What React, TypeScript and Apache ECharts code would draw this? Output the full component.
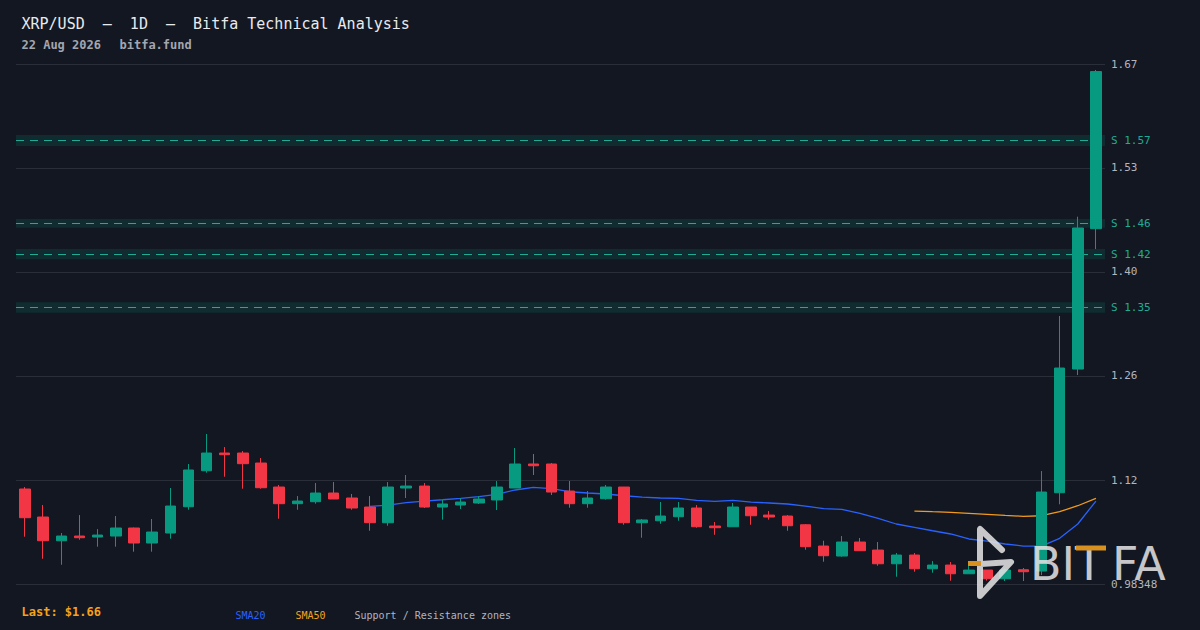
import React, { useEffect, useRef } from "react";
import * as echarts from "echarts";

const BG = "#131722";
const UP = "#089981";
const DOWN = "#f23645";
const MONO = "'DejaVu Sans Mono', 'Liberation Mono', monospace";

const opens = [
  1.1089, 1.0719, 1.0406, 1.0468, 1.0455, 1.0468, 1.0574, 1.0376, 1.0508, 1.0855,
  1.133, 1.1564, 1.1564, 1.1432, 1.1115, 1.0895, 1.0921, 1.1036, 1.097, 1.0851,
  1.0644, 1.1102, 1.1128, 1.0851, 1.0878, 1.0904, 1.0944, 1.1102, 1.1419, 1.1419,
  1.1062, 1.0895, 1.0961, 1.1115, 1.0644, 1.067, 1.0723, 1.0838, 1.06, 1.0591,
  1.0851, 1.0745, 1.0732, 1.0617, 1.0336, 1.0204, 1.0389, 1.0283, 1.0102, 1.0217,
  1.0036, 1.0085, 0.997, 1.0019, 0.9904, 1.0023, 1.0006, 1.104, 1.2673, 1.4526,
];
const closes = [
  1.071, 1.0406, 1.0468, 1.0446, 1.0481, 1.0574, 1.0376, 1.0521, 1.0864, 1.134,
  1.1564, 1.1542, 1.1423, 1.1106, 1.0895, 1.093, 1.1036, 1.0957, 1.0838, 1.0644,
  1.1115, 1.1128, 1.0851, 1.0891, 1.0917, 1.0957, 1.1115, 1.1419, 1.1396, 1.1049,
  1.0895, 1.097, 1.1115, 1.0644, 1.068, 1.0732, 1.0838, 1.0591, 1.0578, 1.0851,
  1.0736, 1.0719, 1.0604, 1.0327, 1.0208, 1.0389, 1.0274, 1.0102, 1.0217, 1.0036,
  1.0085, 0.997, 1.0019, 0.9904, 1.0019, 0.9997, 1.1049, 1.2686, 1.4535, 1.66,
];
const lows = [
  1.0459, 1.0168, 1.0089, 1.0419, 1.0327, 1.0327, 1.0261, 1.0261, 1.0433, 1.0815,
  1.1304, 1.1251, 1.1093, 1.1093, 1.0697, 1.0815, 1.0895, 1.0957, 1.0815, 1.0538,
  1.0604, 1.097, 1.0838, 1.0684, 1.0825, 1.0891, 1.0811, 1.1102, 1.1274, 1.101,
  1.0842, 1.0842, 1.0948, 1.0617, 1.0446, 1.063, 1.067, 1.0578, 1.0485, 1.0591,
  1.0617, 1.0684, 1.0538, 1.0287, 1.0129, 1.0195, 1.0274, 1.0076, 0.9931, 0.9997,
  0.9984, 0.9878, 0.997, 0.988, 0.9874, 0.9874, 0.9953, 1.0887, 1.2594, 1.4257,
];
const highs = [
  1.1115, 1.0877, 1.0508, 1.0745, 1.056, 1.0732, 1.058, 1.0693, 1.1102, 1.1419,
  1.1815, 1.1643, 1.159, 1.1498, 1.1142, 1.0996, 1.1168, 1.1181, 1.1023, 1.0996,
  1.1181, 1.1274, 1.1168, 1.0944, 1.097, 1.0996, 1.1194, 1.163, 1.1551, 1.1432,
  1.1194, 1.1062, 1.1142, 1.1115, 1.0693, 1.0917, 1.0917, 1.0877, 1.0653, 1.0904,
  1.0851, 1.0798, 1.0745, 1.0627, 1.0406, 1.0468, 1.0442, 1.0389, 1.0244, 1.0244,
  1.0138, 1.0125, 1.0072, 1.002, 1.004, 1.0046, 1.1326, 1.3373, 1.4684, 1.6621,
];

const sma20 = [
  null, null, null, null, null, null, null, null, null, null,
  null, null, null, null, null, null, null, null, null, 1.086,
  1.0877, 1.0908, 1.093, 1.0947, 1.0966, 1.0987, 1.1019, 1.1076, 1.1111, 1.1095,
  1.1053, 1.1036, 1.1023, 1.1, 1.0983, 1.097, 1.0966, 1.094, 1.0926, 1.094,
  1.0917, 1.0904, 1.0891, 1.0864, 1.0831, 1.0821, 1.0768, 1.0702, 1.0627, 1.0583,
  1.0538, 1.0495, 1.0429, 1.0402, 1.0363, 1.0336, 1.0336, 1.0438, 1.0627, 1.093,
];
const sma50 = [
  null, null, null, null, null, null, null, null, null, null,
  null, null, null, null, null, null, null, null, null, null,
  null, null, null, null, null, null, null, null, null, null,
  null, null, null, null, null, null, null, null, null, null,
  null, null, null, null, null, null, null, null, null, 1.0798,
  1.0789, 1.0781, 1.0768, 1.0755, 1.0741, 1.0728, 1.0736, 1.0789, 1.0868, 1.0966,
];

const Y_MIN = 0.98348;
const Y_MAX = 1.67;
const yTicks = [0.98348, 1.12078, 1.25809, 1.3954, 1.5327, 1.67];
const yTickLabels = ["0.98348", "1.12", "1.26", "1.40", "1.53", "1.67"];

const supportLevels = [1.5693, 1.4597, 1.4191, 1.3488];
const zoneLow = [1.5618, 1.4539, 1.4121, 1.3416];
const zoneHigh = [1.5763, 1.4654, 1.4257, 1.3554];

const categories: string[] = [];
{
  const end = new Date(Date.UTC(2026, 7, 22));
  for (let i = 59; i >= 0; i--) {
    const d = new Date(end.getTime() - i * 86400000);
    categories.push(d.toISOString().slice(0, 10));
  }
}

const LOGO_FILL = "rgba(225,225,225,0.88)";
const LOGO_ORANGE = "#d8901f";

export default function App() {
  const ref = useRef<HTMLDivElement>(null);
  useEffect(() => {
    const chart = echarts.init(ref.current!, null, { renderer: "svg" });
    const candleData = opens.map((o, i) => [o, closes[i], lows[i], highs[i]]);

    const gridLines = yTicks.map((v, i) => ({
      yAxis: v,
      lineStyle: { color: "#2a2e39", width: 1, type: "solid" },
      label: {
        show: true,
        position: "end",
        distance: 6,
        formatter: yTickLabels[i],
        color: "#b2b5be",
        fontFamily: MONO,
        fontSize: 11,
      },
    }));
    const supLines = supportLevels.map((v) => ({
      yAxis: v,
      lineStyle: { color: "#22ab94", width: 1.2, type: [8, 6] },
      label: {
        show: true,
        position: "end",
        distance: 6,
        formatter: "S " + v.toFixed(2),
        color: "#22ab94",
        fontFamily: MONO,
        fontSize: 11,
      },
    }));
    const zones = zoneLow.map((lo, i) => [{ yAxis: lo }, { yAxis: zoneHigh[i] }]);

    chart.setOption({
      animation: false,
      backgroundColor: BG,
      grid: { left: 16, right: 95, top: 64, bottom: 46 },
      xAxis: {
        type: "category",
        data: categories,
        boundaryGap: true,
        axisLine: { show: false },
        axisTick: { show: false },
        axisLabel: { show: false },
        splitLine: { show: false },
      },
      yAxis: {
        type: "value",
        position: "right",
        min: Y_MIN,
        max: Y_MAX,
        scale: true,
        axisLine: { show: false },
        axisTick: { show: false },
        axisLabel: { show: false },
        splitLine: { show: false },
      },
      series: [
        {
          name: "SMA20",
          type: "line",
          z: 1,
          data: sma20,
          showSymbol: false,
          symbol: "none",
          lineStyle: { color: "#2962ff", width: 1.3 },
          silent: true,
          markArea: {
            silent: true,
            z: 0,
            itemStyle: { color: "rgba(8,153,129,0.16)" },
            data: zones,
          },
          markLine: {
            silent: true,
            z: 1,
            symbol: ["none", "none"],
            precision: 5,
            data: [...gridLines, ...supLines],
          },
        },
        {
          name: "SMA50",
          type: "line",
          z: 2,
          data: sma50,
          showSymbol: false,
          symbol: "none",
          lineStyle: { color: "#f29a1e", width: 1.3 },
          silent: true,
        },
        {
          name: "XRP",
          type: "candlestick",
          z: 6,
          data: candleData,
          barWidth: 11,
          itemStyle: {
            color: UP,
            color0: DOWN,
            borderColor: UP,
            borderColor0: DOWN,
            borderWidth: 1,
          },
        },
      ],
      graphic: [
        {
          type: "text",
          x: 21.5,
          y: 24,
          style: {
            text: "XRP/USD  –  1D  –  Bitfa Technical Analysis",
            fill: "#e8eaed",
            font: `15px ${MONO}`,
            verticalAlign: "middle",
          },
        },
        {
          type: "text",
          x: 21.5,
          y: 45,
          style: {
            text: "22 Aug 2026",
            fill: "#a3a6af",
            font: `bold 12px ${MONO}`,
            verticalAlign: "middle",
          },
        },
        {
          type: "text",
          x: 119.5,
          y: 45,
          style: {
            text: "bitfa.fund",
            fill: "#a3a6af",
            font: `bold 12px ${MONO}`,
            verticalAlign: "middle",
          },
        },
        {
          type: "text",
          x: 21.5,
          y: 612,
          style: {
            text: "Last: $1.66",
            fill: "#f7a21b",
            font: `bold 12px ${MONO}`,
            verticalAlign: "middle",
          },
        },
        {
          type: "text",
          x: 235.5,
          y: 615,
          style: {
            text: "SMA20",
            fill: "#2962ff",
            font: `10px ${MONO}`,
            verticalAlign: "middle",
          },
        },
        {
          type: "text",
          x: 295.5,
          y: 615,
          style: {
            text: "SMA50",
            fill: "#f7a21b",
            font: `10px ${MONO}`,
            verticalAlign: "middle",
          },
        },
        {
          type: "text",
          x: 354.5,
          y: 615,
          style: {
            text: "Support / Resistance zones",
            fill: "#b2b5be",
            font: `10px ${MONO}`,
            verticalAlign: "middle",
          },
        },
        {
          type: "group",
          z: 100,
          children: [
            {
              type: "polyline",
              z: 100,
              shape: { points: [[1002, 550], [980, 529], [980, 596], [1011, 562], [981, 564]] },
              style: { stroke: LOGO_FILL, lineWidth: 6, fill: "none", lineCap: "round", lineJoin: "round" },
            },
            {
              type: "rect",
              z: 100,
              shape: { x: 968, y: 561, width: 13, height: 5 },
              style: { fill: LOGO_ORANGE },
            },
            {
              type: "text",
              z: 100,
              x: 1030,
              y: 563.5,
              style: {
                text: "BIT",
                fill: LOGO_FILL,
                font: "46px 'DejaVu Sans', sans-serif",
                verticalAlign: "middle",
              },
            },
            {
              type: "text",
              z: 100,
              x: 1112,
              y: 563.5,
              style: {
                text: "FA",
                fill: LOGO_FILL,
                font: "46px 'DejaVu Sans', sans-serif",
                verticalAlign: "middle",
              },
            },
            {
              type: "rect",
              z: 101,
              shape: { x: 1076, y: 545.5, width: 30, height: 5 },
              style: { fill: LOGO_ORANGE },
            },
          ],
        },
      ],
    });
    return () => chart.dispose();
  }, []);
  return (
    <div
      ref={ref}
      style={{ position: "fixed", left: 0, top: 0, width: 1200, height: 630, background: BG }}
    />
  );
}
